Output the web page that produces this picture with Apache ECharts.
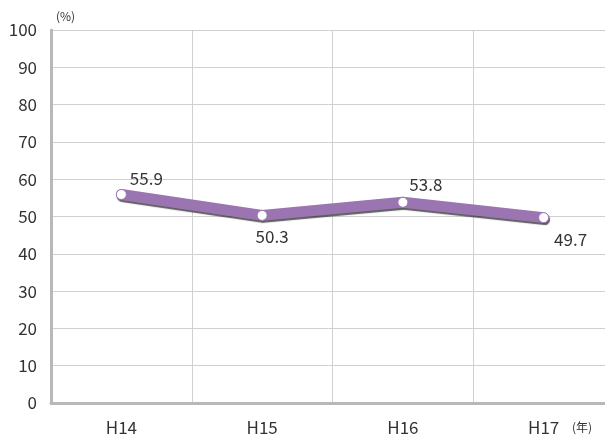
<!DOCTYPE html>
<html>
<head>
<meta charset="utf-8">
<script src="https://cdn.jsdelivr.net/npm/echarts@6/dist/echarts.min.js"></script>
<style>
  html, body { margin: 0; padding: 0; background: #fff; }
  #chart { width: 605px; height: 437px; }
</style>
</head>
<body>
<div id="chart"></div>
<script>
  // data
  const categories = ['H14', 'H15', 'H16', 'H17']
  const values = [55.9, 50.3, 53.8, 49.7]
  const labelOffsets = [[25, -16], [10, 21], [23, -18], [27, 22]]

  const FONT = '"Noto Sans CJK JP", "Noto Sans", sans-serif'
  const chart = echarts.init(document.getElementById('chart'))

  const option = {
    animation: false,
    grid: {
      left: 51,
      right: -9,
      top: 30,
      bottom: 34,
      containLabel: false,
      outerBoundsMode: 'none'
    },
    xAxis: {
      type: 'category',
      data: categories,
      boundaryGap: true,
      axisLine: { lineStyle: { color: '#b8b8b8', width: 3 } },
      axisTick: { show: false },
      axisLabel: {
        color: '#333',
        fontSize: 17,
        fontFamily: FONT,
        margin: 16
      },
      splitLine: { show: true, lineStyle: { color: '#d0d0d0', width: 1 } }
    },
    yAxis: {
      type: 'value',
      min: 0,
      max: 100,
      interval: 10,
      axisLine: { show: true, lineStyle: { color: '#b8b8b8', width: 3 } },
      axisTick: { show: false },
      axisLabel: {
        color: '#333',
        fontSize: 17,
        fontFamily: FONT,
        margin: 14
      },
      splitLine: { lineStyle: { color: '#d0d0d0', width: 1 } }
    },
    graphic: [
      {
        type: 'text',
        left: 56,
        top: 10,
        style: { text: '(%)', fontSize: 12, fill: '#333', fontFamily: FONT }
      },
      {
        type: 'text',
        left: 572,
        top: 421,
        style: { text: '(年)', fontSize: 12, fill: '#333', fontFamily: FONT }
      }
    ],
    series: [
      {
        type: 'line',
        data: values.map((v, i) => ({
          value: v,
          label: { offset: labelOffsets[i] }
        })),
        lineStyle: {
          color: '#9b74b2',
          width: 11,
          cap: 'round',
          join: 'round',
          shadowColor: 'rgba(40,40,40,0.75)',
          shadowOffsetX: 1,
          shadowOffsetY: 2,
          shadowBlur: 1
        },
        symbol: 'circle',
        symbolSize: 10,
        itemStyle: {
          color: '#ffffff',
          borderColor: '#9b74b2',
          borderWidth: 1
        },
        label: {
          show: true,
          position: 'inside',
          color: '#333',
          fontSize: 17,
          fontFamily: FONT,
          formatter: p => p.value.toFixed(1)
        },
        z: 3
      }
    ]
  }

  chart.setOption(option)
</script>
</body>
</html>
